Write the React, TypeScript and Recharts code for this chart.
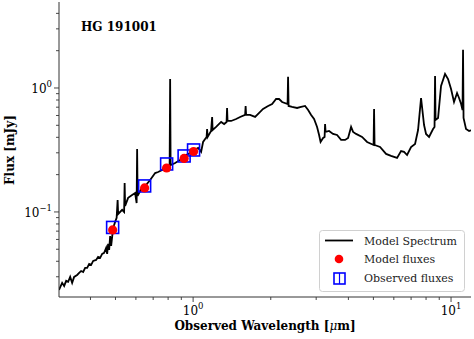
import React from "react";
import { ComposedChart, Line, Scatter, XAxis, YAxis } from "recharts";

// model spectrum (um, mJy)
const specWave = [
  0.302, 0.3106, 0.3162, 0.322, 0.3277, 0.3337, 0.3396, 0.3457, 0.3551, 0.3615,
  0.368, 0.3747, 0.3814, 0.3883, 0.3953, 0.4024, 0.4097, 0.4207, 0.4282, 0.436,
  0.4439, 0.4519, 0.4601, 0.4642, 0.4683, 0.4725, 0.4768, 0.4811,
  0.4897, 0.4985, 0.5052, 0.5097, 0.512, 0.5306,
  0.5401, 0.5426, 0.545, 0.5598, 0.5801, 0.5958, 0.6039, 0.6066, 0.6093, 0.6287,
  0.6516, 0.6813, 0.7124, 0.7316, 0.7583, 0.7858, 0.8108, 0.8145, 0.8181, 0.8516,
  0.8905, 0.9228, 0.9736, 1.009, 1.046, 1.074, 1.093, 1.113, 1.128, 1.133,
  1.138, 1.174, 1.185, 1.19, 1.228, 1.284, 1.319, 1.348, 1.354, 1.36,
  1.404, 1.468, 1.521, 1.591, 1.598, 1.605, 1.663, 1.739, 1.803, 1.867,
  1.953, 2.024, 2.097, 2.154, 2.213, 2.324, 2.334, 2.345, 2.42, 2.53,
  2.622, 2.717, 2.792, 2.868, 2.944, 3.024, 3.079, 3.12, 3.191, 3.234,
  3.248, 3.263, 3.366, 3.488, 3.615, 3.747, 3.883, 3.989, 4.097, 4.171,
  4.284, 4.519, 4.725, 5.008, 5.03, 5.052, 5.306, 5.599, 5.853, 6.176,
  6.4, 6.574, 6.753, 6.998, 7.253, 7.449, 7.651, 7.859, 8.0, 8.217,
  8.516, 8.63, 8.67, 8.709, 8.906, 9.146, 9.478, 9.736, 10.0, 10.27,
  10.55, 10.74, 10.94, 11.08, 11.13, 11.18, 11.43, 11.75, 12.06,
];
const specFlux = [
  0.0235, 0.0268, 0.0253, 0.0278, 0.0273, 0.0299, 0.0268, 0.0299, 0.031, 0.0322,
  0.0334, 0.0328, 0.0354, 0.0354, 0.0381, 0.0374, 0.0403, 0.041, 0.0434, 0.0426,
  0.0459, 0.0467, 0.0513, 0.0459, 0.0552, 0.0494, 0.064, 0.0532,
  0.0743, 0.0831, 0.0895, 0.125, 0.0963, 0.104,
  0.1, 0.171, 0.112, 0.13, 0.137, 0.142, 0.118, 0.322, 0.135, 0.153,
  0.162, 0.181, 0.206, 0.21, 0.218, 0.239, 0.235, 1.18, 0.239, 0.248,
  0.263, 0.283, 0.299, 0.316, 0.328, 0.305, 0.367, 0.388, 0.403, 0.467,
  0.403, 0.45, 0.584, 0.458, 0.485, 0.532, 0.512, 0.532, 0.69, 0.542,
  0.542, 0.562, 0.584, 0.606, 0.716, 0.606, 0.606, 0.584, 0.629, 0.677,
  0.716, 0.743, 0.815, 0.815, 0.771, 0.743, 1.23, 0.716, 0.703, 0.69,
  0.703, 0.716, 0.665, 0.606, 0.562, 0.485, 0.418, 0.367, 0.395, 0.403,
  0.512, 0.442, 0.45, 0.426, 0.418, 0.381, 0.381, 0.395, 0.485, 0.442,
  0.426, 0.403, 0.367, 0.347, 0.677, 0.347, 0.334, 0.294, 0.283, 0.273,
  0.31, 0.305, 0.288, 0.334, 0.354, 0.458, 0.83, 0.503, 0.426, 0.403,
  0.467, 0.485, 1.25, 0.552, 0.573, 1.04, 1.3, 1.18, 0.982, 0.771,
  0.911, 0.83, 0.743, 0.665, 2.03, 0.573, 0.467, 0.45, 0.458,
];

// photometric bands
const bandWave = [0.4875, 0.6486, 0.7894, 0.9228, 1.004];
const modelFlux = [0.0716, 0.1562, 0.2263, 0.2701, 0.3075];
const obsFlux = [0.075, 0.1621, 0.2438, 0.2829, 0.3162];

const xMajor = [1, 10];
const xTicks = [0.4, 0.5, 0.6, 0.7, 0.8, 0.9, 1, 2, 3, 4, 5, 6, 7, 8, 9, 10];
const yMajor = [0.1, 1];
const yTicks = [0.03, 0.04, 0.05, 0.06, 0.07, 0.08, 0.09, 0.1, 0.2, 0.3, 0.4, 0.5, 0.6, 0.7, 0.8, 0.9, 1, 2, 3, 4];
const xDomain = [0.302, 11.95];
const yDomain = [0.0206, 4.94];

const SERIF = '"DejaVu Serif", serif';
const AXIS = "#333";

const specData = specWave.map((w, i) => ({ w, f: specFlux[i] }));
const modelData = bandWave.map((w, i) => ({ w, f: modelFlux[i] }));
const obsData = bandWave.map((w, i) => ({ w, f: obsFlux[i] }));

function expOf(v: number) {
  const e = Math.round(Math.log10(v));
  return e < 0 ? "\u2212" + Math.abs(e) : String(e);
}

function XTick(props: any) {
  const { x, y, payload } = props;
  const major = xMajor.includes(payload.value);
  return (
    <g>
      <line x1={x} x2={x} y1={y} y2={y + (major ? 5 : 3)} stroke={AXIS} strokeWidth={0.9} />
      {major && (
        <text x={x} y={y + 18} textAnchor="middle" fontFamily={SERIF} fontSize={12} fill="#000">
          10<tspan dy={-6} fontSize={8.5}>{expOf(payload.value)}</tspan>
        </text>
      )}
    </g>
  );
}

function YTick(props: any) {
  const { x, y, payload } = props;
  const major = yMajor.includes(payload.value);
  return (
    <g>
      <line x1={x} x2={x - (major ? 5 : 3)} y1={y} y2={y} stroke={AXIS} strokeWidth={0.9} />
      {major && (
        <text x={x - 7} y={y + 5} textAnchor="end" fontFamily={SERIF} fontSize={12} fill="#000">
          10<tspan dy={-6} fontSize={8.5}>{expOf(payload.value)}</tspan>
        </text>
      )}
    </g>
  );
}

function ObsBox(props: any) {
  const { cx, cy } = props;
  if (cx == null || cy == null) return <g />;
  return <rect x={cx - 6} y={cy - 6} width={12} height={12} fill="none" stroke="#0000ff" strokeWidth={1.6} />;
}

function ModelDot(props: any) {
  const { cx, cy } = props;
  if (cx == null || cy == null) return <g />;
  return <circle cx={cx} cy={cy} r={4.6} fill="#ff0000" />;
}

function Legend() {
  return (
    <svg
      width={146}
      height={62}
      style={{ position: "absolute", left: 319, top: 230, overflow: "visible" }}
    >
      <rect x={0.5} y={0.5} width={145} height={61} rx={3} fill="rgba(255,255,255,0.85)" stroke="#d0d0d0" />
      <line x1={6} x2={34} y1={10.5} y2={10.5} stroke="#000" strokeWidth={1.8} />
      <circle cx={20} cy={29} r={4.3} fill="#ff0000" />
      <rect x={15} y={43} width={11} height={11} fill="none" stroke="#0000ff" strokeWidth={1.6} />
      <line x1={20.5} x2={20.5} y1={43} y2={54} stroke="#0000ff" strokeWidth={1.2} />
      <g fontFamily={SERIF} fontSize={11} fill="#222">
        <text x={45} y={14.5}>Model Spectrum</text>
        <text x={45} y={33}>Model fluxes</text>
        <text x={45} y={52}>Observed fluxes</text>
      </g>
    </svg>
  );
}

export default function App() {
  return (
    <div style={{ position: "absolute", left: 0, top: 0, width: 474, height: 339, background: "#fff" }}>
      <ComposedChart width={474} height={339} margin={{ top: 2, right: 3, left: 0, bottom: 0 }}>
        <XAxis
          dataKey="w"
          type="number"
          scale="log"
          domain={xDomain}
          allowDataOverflow
          ticks={xTicks}
          interval={0}
          tickLine={false}
          tickSize={0}
          tickMargin={0}
          tick={(p: any) => <XTick {...p} />}
          height={42}
          stroke={AXIS}
          label={(p: any) => {
            const vb = p.viewBox || { x: 59, y: 297, width: 412 };
            return (
              <text
                x={vb.x + vb.width / 2}
                y={330}
                textAnchor="middle"
                fontFamily={SERIF}
                fontWeight="bold"
                fontSize={12}
                fill="#000"
              >
                Observed Wavelength [<tspan fontStyle="italic" fontWeight="normal">μ</tspan>m]
              </text>
            );
          }}
        />
        <XAxis
          xAxisId="top"
          orientation="top"
          type="number"
          scale="log"
          domain={xDomain}
          allowDataOverflow
          height={0}
          tick={false}
          tickLine={false}
          stroke={AXIS}
        />
        <YAxis
          type="number"
          scale="log"
          domain={yDomain}
          allowDataOverflow
          ticks={yTicks}
          interval={0}
          tickLine={false}
          tickSize={0}
          tickMargin={0}
          tick={(p: any) => <YTick {...p} />}
          width={59}
          stroke={AXIS}
          label={() => (
            <text
              x={14}
              y={150}
              transform="rotate(-90 14 150)"
              textAnchor="middle"
              fontFamily={SERIF}
              fontWeight="bold"
              fontSize={12}
              fill="#000"
            >
              Flux [mJy]
            </text>
          )}
        />
        <YAxis
          yAxisId="right"
          orientation="right"
          type="number"
          scale="log"
          domain={yDomain}
          allowDataOverflow
          width={0}
          tick={false}
          tickLine={false}
          stroke={AXIS}
        />
        <Line
          data={specData}
          dataKey="f"
          type="linear"
          stroke="#000"
          strokeWidth={1.8}
          dot={false}
          activeDot={false}
          isAnimationActive={false}
        />
        <Scatter data={obsData} dataKey="f" shape={ObsBox} isAnimationActive={false} />
        <Scatter data={modelData} dataKey="f" shape={ModelDot} isAnimationActive={false} />
      </ComposedChart>
      <div
        style={{
          position: "absolute",
          left: 81,
          top: 19,
          fontFamily: SERIF,
          fontWeight: "bold",
          fontSize: 12,
          lineHeight: "16px",
        }}
      >
        HG 191001
      </div>
      <Legend />
    </div>
  );
}
